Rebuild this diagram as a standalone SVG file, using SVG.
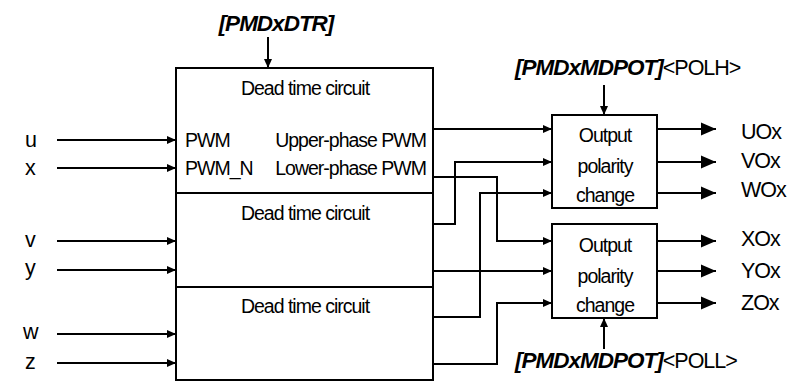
<svg xmlns="http://www.w3.org/2000/svg" width="787" height="381" viewBox="0 0 787 381">
<style>
text{font-family:"Liberation Sans",Arial,sans-serif;font-size:19.5px;letter-spacing:-1px;fill:#000}
.b{font-weight:bold;font-style:italic;font-size:22.5px}
.r20{font-size:21.5px}
.box{fill:#fff;stroke:#000;stroke-width:2}
.w{fill:none;stroke:#000;stroke-width:2}
.s{marker-end:url(#ah)}
.l{marker-end:url(#al)}
</style>
<defs>
<marker id="ah" markerUnits="userSpaceOnUse" markerWidth="10" markerHeight="10" refX="9" refY="4.5" orient="auto"><path d="M0,0.5 L9,4.5 L0,8.5 Z" fill="#000"/></marker>
<marker id="al" markerUnits="userSpaceOnUse" markerWidth="16" markerHeight="14" refX="15" refY="7" orient="auto"><path d="M0,0.5 L15,7 L0,13.5 Z" fill="#000"/></marker>
</defs>
<g id="dtc1">
<rect class="box" x="176" y="68" width="257" height="125"/>
<text x="305" y="95" text-anchor="middle">Dead time circuit</text>
<text x="185" y="147">PWM</text>
<text x="185" y="175">PWM_N</text>
<text x="426" y="147" text-anchor="end">Upper-phase PWM</text>
<text x="426" y="175" text-anchor="end">Lower-phase PWM</text>
</g>
<g id="dtc2">
<rect class="box" x="176" y="193" width="257" height="94"/>
<text x="305" y="220" text-anchor="middle">Dead time circuit</text>
</g>
<g id="dtc3">
<rect class="box" x="176" y="287" width="257" height="93"/>
<text x="305" y="313" text-anchor="middle">Dead time circuit</text>
</g>
<g id="opc1">
<rect class="box" x="552" y="115" width="105" height="93"/>
<text x="605" y="142" text-anchor="middle">Output</text>
<text x="605" y="173" text-anchor="middle">polarity</text>
<text x="605" y="202" text-anchor="middle">change</text>
</g>
<g id="opc2">
<rect class="box" x="552" y="224" width="105" height="94"/>
<text x="605" y="252" text-anchor="middle">Output</text>
<text x="605" y="283" text-anchor="middle">polarity</text>
<text x="605" y="312" text-anchor="middle">change</text>
</g>
<g id="labels">
<text class="r20" x="25" y="147">u</text>
<text class="r20" x="25" y="175">x</text>
<text class="r20" x="25" y="247">v</text>
<text class="r20" x="25" y="275">y</text>
<text class="r20" x="23" y="339">w</text>
<text class="r20" x="25" y="369">z</text>
<text class="b" x="276" y="31" text-anchor="middle">[PMDxDTR]</text>
<text x="515" y="75"><tspan class="b">[PMDxMDPOT]</tspan><tspan class="r20">&lt;POLH&gt;</tspan></text>
<text x="515" y="368"><tspan class="b">[PMDxMDPOT]</tspan><tspan class="r20">&lt;POLL&gt;</tspan></text>
<text class="r20" x="741" y="139">UOx</text>
<text class="r20" x="741" y="168">VOx</text>
<text class="r20" x="741" y="197">WOx</text>
<text class="r20" x="741" y="246">XOx</text>
<text class="r20" x="741" y="278">YOx</text>
<text class="r20" x="741" y="310">ZOx</text>
</g>
<g id="connectors">
<path class="w s" d="M57,140 H176"/>
<path class="w s" d="M57,168 H176"/>
<path class="w s" d="M57,241 H176"/>
<path class="w s" d="M57,270 H176"/>
<path class="w s" d="M57,334 H176"/>
<path class="w s" d="M57,363 H176"/>
<path class="w s" d="M268,37 V68"/>
<path class="w s" d="M604,85 V115"/>
<path class="w s" d="M604,349 V318"/>
<path class="w s" d="M433,129 H552"/>
<path class="w s" d="M433,224 H455 V162 H552"/>
<path class="w s" d="M433,317 H480 V193 H552"/>
<path class="w s" d="M433,177 H497 V241 H552"/>
<path class="w s" d="M433,271 H552"/>
<path class="w s" d="M433,364 H497 V303 H552"/>
<path class="w l" d="M657,129 H716"/>
<path class="w l" d="M657,162 H716"/>
<path class="w l" d="M657,193 H716"/>
<path class="w l" d="M657,241 H716"/>
<path class="w l" d="M657,271 H716"/>
<path class="w l" d="M657,303 H716"/>
</g>
</svg>
